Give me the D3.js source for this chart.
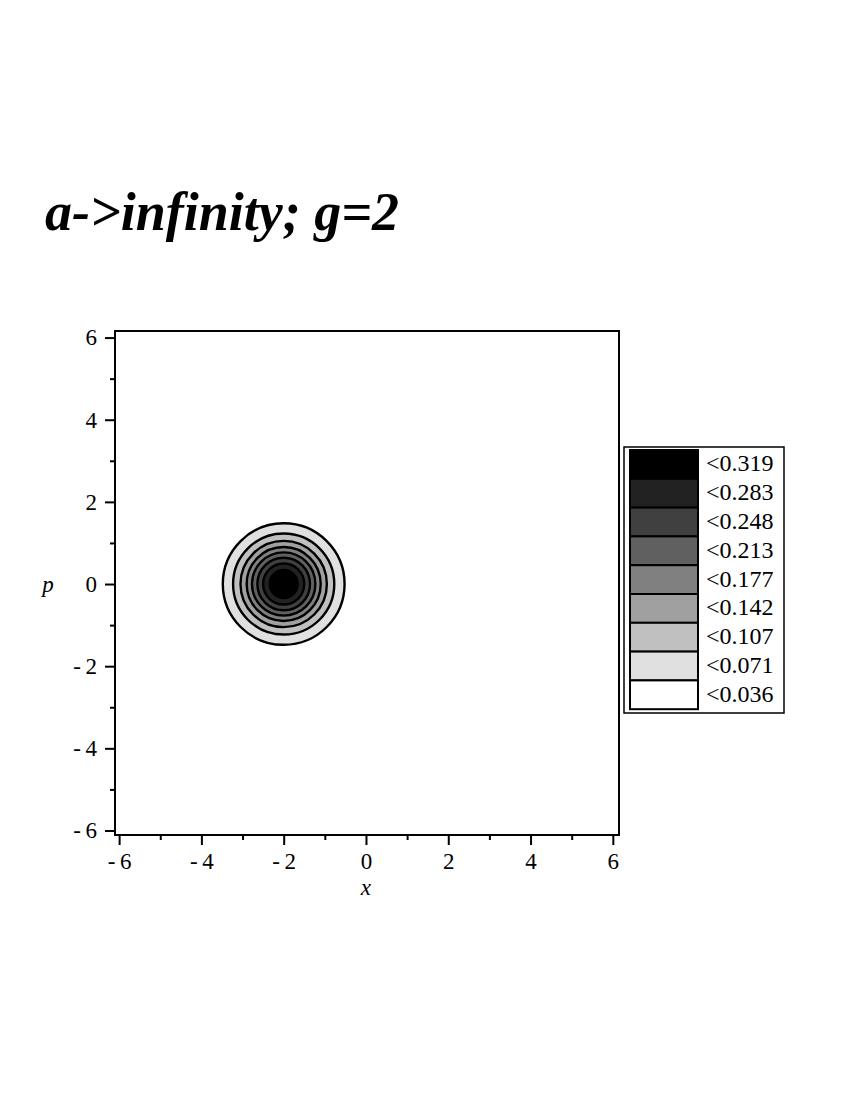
<!DOCTYPE html>
<html>
<head>
<meta charset="utf-8">
<script src="https://cdn.jsdelivr.net/npm/d3@7"></script>
<style>
  body { margin: 0; background: #fff; }
  text { font-family: "Liberation Serif", "Times New Roman", serif; }
</style>
</head>
<body>
<div id="chart-area"></div>
<script>
// contour levels (legend, top to bottom) and their fill greys
var levels = [0.319, 0.283, 0.248, 0.213, 0.177, 0.142, 0.107, 0.071, 0.036]
var greys = ["#000000", "#222222", "#404040", "#606060", "#808080", "#a0a0a0", "#c0c0c0", "#e0e0e0", "#ffffff"]

// peak position and radius of each contour line
// (contour i sits at level ascLevels[i])
var peak = {x: -2, p: 0}
var contourRadii = [1.48, 1.23, 1.05, 0.90, 0.77, 0.64, 0.50, 0.34]

var majorTicks = [-6, -4, -2, 0, 2, 4, 6]
var minorTicks = [-5, -3, -1, 1, 3, 5]

var cw = 850, ch = 1100
var fr = {l: 115, r: 619, t: 331, b: 835}

var svg = d3.select("#chart-area").append("svg")
    .attr("width", cw)
    .attr("height", ch)

svg.append("text")
    .attr("x", 45)
    .attr("y", 230)
    .attr("font-size", "54px")
    .attr("font-weight", "bold")
    .attr("font-style", "italic")
    .text("a->infinity; g=2")

var x = d3.scaleLinear().domain([-6.1, 6.15]).range([fr.l, fr.r])
var y = d3.scaleLinear().domain([-6.11, 6.16]).range([fr.b, fr.t])

var ascLevels = levels.slice().reverse()
var ascGreys = greys.slice().reverse()

// filled contours, outermost first
var rings = contourRadii.map((r, i) => ({r: r, level: ascLevels[i], fill: ascGreys[i + 1]}))

svg.append("g").selectAll("ellipse")
    .data(rings)
    .enter().append("ellipse")
    .attr("cx", x(peak.x))
    .attr("cy", y(peak.p))
    .attr("rx", d => x(peak.x + d.r) - x(peak.x))
    .attr("ry", d => y(peak.p) - y(peak.p + d.r))
    .attr("fill", d => d.fill)
    .attr("stroke", "#000")
    .attr("stroke-width", 2.4)

// frame
svg.append("rect")
    .attr("x", fr.l)
    .attr("y", fr.t)
    .attr("width", fr.r - fr.l)
    .attr("height", fr.b - fr.t)
    .attr("fill", "none")
    .attr("stroke", "#000")
    .attr("stroke-width", 2)

var fmt = d => d < 0 ? "-\u2009" + Math.abs(d) : String(d)

// bottom axis
var bottom = svg.append("g").attr("transform", "translate(0," + fr.b + ")")
bottom.call(d3.axisBottom(x).tickValues(majorTicks).tickSize(10).tickPadding(8).tickFormat(fmt))
bottom.call(g => g.select(".domain").remove())
bottom.selectAll(".tick line").attr("stroke-width", 2)
bottom.selectAll("text").attr("font-size", "23px")

var bottomMinor = svg.append("g").attr("transform", "translate(0," + fr.b + ")")
bottomMinor.call(d3.axisBottom(x).tickValues(minorTicks).tickSize(5).tickFormat(""))
bottomMinor.call(g => g.select(".domain").remove())
bottomMinor.selectAll(".tick line").attr("stroke-width", 2)

// left axis
var left = svg.append("g").attr("transform", "translate(" + fr.l + ",0)")
left.call(d3.axisLeft(y).tickValues(majorTicks).tickSize(10).tickPadding(8).tickFormat(fmt))
left.call(g => g.select(".domain").remove())
left.selectAll(".tick line").attr("stroke-width", 2)
left.selectAll("text").attr("font-size", "23px")

var leftMinor = svg.append("g").attr("transform", "translate(" + fr.l + ",0)")
leftMinor.call(d3.axisLeft(y).tickValues(minorTicks).tickSize(5).tickFormat(""))
leftMinor.call(g => g.select(".domain").remove())
leftMinor.selectAll(".tick line").attr("stroke-width", 2)

// axis labels
svg.append("text")
    .attr("x", x(0))
    .attr("y", 895)
    .attr("font-size", "23px")
    .attr("font-style", "italic")
    .attr("text-anchor", "middle")
    .text("x")

svg.append("text")
    .attr("x", 48)
    .attr("y", y(0) + 8)
    .attr("font-size", "23px")
    .attr("font-style", "italic")
    .attr("text-anchor", "middle")
    .text("p")

// legend
var lg = {x: 624, y: 447, w: 160, h: 266}
var rowH = 28.8
var legend = svg.append("g")

legend.append("rect")
    .attr("x", lg.x)
    .attr("y", lg.y)
    .attr("width", lg.w)
    .attr("height", lg.h)
    .attr("fill", "#fff")
    .attr("stroke", "#000")
    .attr("stroke-width", 1.5)

var rows = legend.selectAll("g.row")
    .data(levels)
    .enter().append("g")
    .attr("class", "row")
    .attr("transform", (d, i) => "translate(" + (lg.x + 6) + "," + (lg.y + 3 + i * rowH) + ")")

rows.append("rect")
    .attr("width", 68)
    .attr("height", rowH)
    .attr("fill", (d, i) => greys[i])
    .attr("stroke", "#000")
    .attr("stroke-width", 2)

rows.append("text")
    .attr("x", 76)
    .attr("y", rowH / 2 + 7)
    .attr("font-size", "24px")
    .text(d => "<" + d.toFixed(3))
</script>
</body>
</html>
